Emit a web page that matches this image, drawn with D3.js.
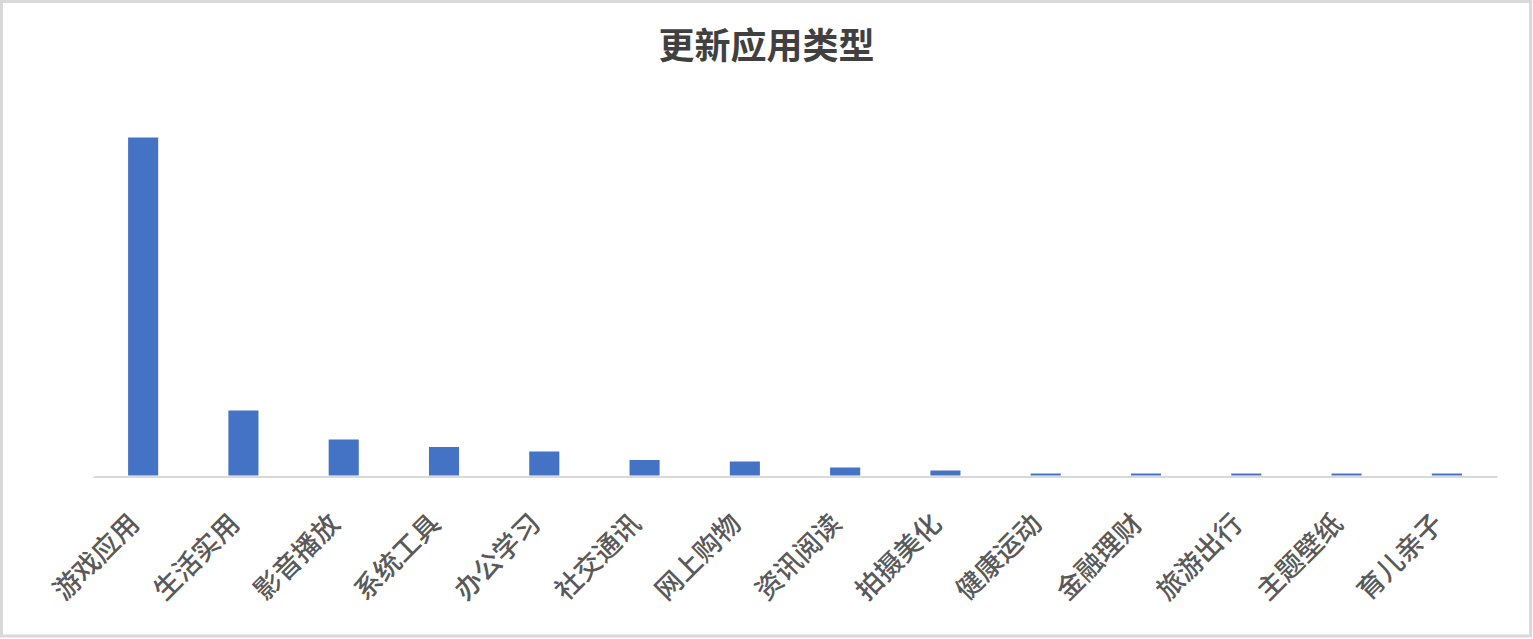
<!DOCTYPE html>
<html>
<head>
<meta charset="utf-8">
<script src="https://cdn.jsdelivr.net/npm/d3@7"></script>
<style>
  html, body { margin: 0; padding: 0; background: #fff; }
  svg { display: block; }
  text { font-family: "Noto Sans CJK SC", "Noto Sans", sans-serif; }
</style>
</head>
<body>
<svg id="chart" width="1533" height="639"></svg>
<script>
const title = "更新应用类型";
const categories = ["游戏应用","生活实用","影音播放","系统工具","办公学习","社交通讯","网上购物","资讯阅读","拍摄美化","健康运动","金融理财","旅游出行","主题壁纸","育儿亲子"];
const values = [676, 130, 72, 57, 48, 31, 28, 16, 10, 4, 4, 4, 4, 4];

const W = 1533, H = 639;
const svg = d3.select("#chart");

svg.append("rect")
  .attr("x", 1.5).attr("y", 1.5)
  .attr("width", W - 4).attr("height", H - 4.5)
  .attr("fill", "#fff").attr("stroke", "#d9d9d9").attr("stroke-width", 3);

const x = d3.scaleBand().domain(categories).range([93, 1497]).paddingInner(0.7).paddingOuter(0.35);
const y = d3.scaleLinear().domain([0, 676]).range([475.5, 137.5]);

svg.append("text")
  .attr("x", W / 2).attr("y", 59)
  .attr("text-anchor", "middle")
  .attr("font-size", 36).attr("font-weight", "bold")
  .attr("fill", "#404040")
  .text(title);

svg.append("g").selectAll("rect").data(values).join("rect")
  .attr("x", (d, i) => x(categories[i]))
  .attr("y", d => y(d))
  .attr("width", x.bandwidth())
  .attr("height", d => y(0) - y(d))
  .attr("fill", "#4472c4");

const axis = svg.append("g").attr("transform", `translate(0,${y(0) + 1})`)
  .call(d3.axisBottom(x).tickSize(0).tickPadding(0));
axis.select(".domain").attr("stroke", "#d9d9d9").attr("stroke-width", 2);
axis.selectAll(".tick text")
  .attr("font-size", 27)
  .attr("font-weight", 500)
  .attr("fill", "#595959")
  .attr("text-anchor", "end")
  .attr("dy", null)
  .attr("y", 0)
  .attr("transform", "translate(-2,49) rotate(-45)");
</script>
</body>
</html>
